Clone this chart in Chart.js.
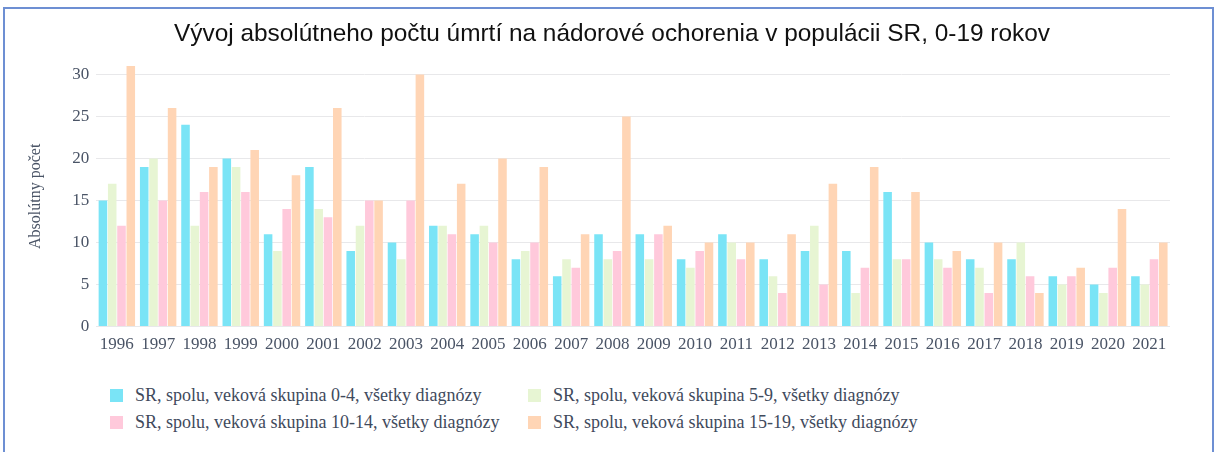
<!doctype html>
<html>

<head>
    <meta charset="utf-8">
    <title>Úmrtia na nádorové ochorenia</title>
    <script src="https://cdn.jsdelivr.net/npm/chart.js"></script>
    <style>
        body { margin: 0; background: #fff; }
        #ramec {
            position: absolute; left: 3px; top: 7px; width: 1207px; height: 450px;
            border: 2px solid #6d8fd3; border-bottom: none; background: #fff;
        }
        #nadpis {
            position: absolute; left: 0; top: 10px; width: 1214px; line-height: 28px; text-align: center;
            font-family: 'Liberation Sans', Arial, sans-serif; font-size: 24.4px; color: #111; white-space: nowrap;
        }
        #graf { position: absolute; left: 0; top: 0; width: 1207px; height: 346px; }
        #legenda {
            position: absolute; left: 105px; top: 376px; width: 900px;
            display: grid; grid-template-columns: 418px 418px; row-gap: 6px;
            font-family: 'Liberation Serif', 'DejaVu Serif', serif; font-size: 18px; color: #3f4a5c;
        }
        .polozka { display: flex; align-items: center; height: 21px; white-space: nowrap; }
        .stvorec { width: 13px; height: 13px; margin-right: 12px; flex: none; }
    </style>
</head>

<body>
    <div id="ramec">
        <div id="graf"><canvas id="platno"></canvas></div>
        <div id="nadpis">Vývoj absolútneho počtu úmrtí na nádorové ochorenia v populácii SR, 0-19 rokov</div>
        <div id="legenda"></div>
    </div>

    <script>
        var roky = ['1996', '1997', '1998', '1999', '2000', '2001', '2002', '2003', '2004', '2005', '2006', '2007', '2008',
            '2009', '2010', '2011', '2012', '2013', '2014', '2015', '2016', '2017', '2018', '2019', '2020', '2021'];

        var skupina0_4 = [15, 19, 24, 20, 11, 19, 9, 10, 12, 11, 8, 6, 11, 11, 8, 11, 8, 9, 9, 16, 10, 8, 8, 6, 5, 6];
        var skupina5_9 = [17, 20, 12, 19, 9, 14, 12, 8, 12, 12, 9, 8, 8, 8, 7, 10, 6, 12, 4, 8, 8, 7, 10, 5, 4, 5];
        var skupina10_14 = [12, 15, 16, 16, 14, 13, 15, 15, 11, 10, 10, 7, 9, 11, 9, 8, 4, 5, 7, 8, 7, 4, 6, 6, 7, 8];
        var skupina15_19 = [31, 26, 19, 21, 18, 26, 15, 30, 17, 20, 19, 11, 25, 12, 10, 10, 11, 17, 19, 16, 9, 10, 4, 7, 14, 10];

        var yTicky = [0, 5, 10, 15, 20, 25, 30];

        var nazvy = [
            'SR, spolu, veková skupina 0-4, všetky diagnózy',
            'SR, spolu, veková skupina 5-9, všetky diagnózy',
            'SR, spolu, veková skupina 10-14, všetky diagnózy',
            'SR, spolu, veková skupina 15-19, všetky diagnózy'
        ];
        var farby = ['#7ae4f6', '#e7f5d3', '#ffc9db', '#ffd5b5'];

        var serif = "'Liberation Serif', 'DejaVu Serif', serif";
        var farbaTextu = '#4a5466';

        var data = [skupina0_4, skupina5_9, skupina10_14, skupina15_19];
        var datasets = data.map(function (hodnoty, i) {
            return {
                label: nazvy[i],
                data: hodnoty,
                backgroundColor: farby[i],
                borderWidth: 0,
                barPercentage: 0.92,
                categoryPercentage: 0.9
            };
        });

        var graf = new Chart(document.getElementById('platno').getContext('2d'), {
            type: 'bar',
            data: { labels: roky, datasets: datasets },
            options: {
                responsive: true,
                maintainAspectRatio: false,
                animation: false,
                layout: { padding: { left: 21, right: 42, top: 57, bottom: 0 } },
                plugins: {
                    legend: { display: false },
                    tooltip: { enabled: false }
                },
                scales: {
                    x: {
                        grid: { display: false },
                        border: { display: false },
                        ticks: { color: farbaTextu, font: { family: serif, size: 17 }, maxRotation: 0, autoSkip: false, padding: 0 }
                    },
                    y: {
                        min: 0,
                        max: 31,
                        grid: { color: '#e8e8ea', drawTicks: false },
                        border: { display: false },
                        afterBuildTicks: function (os) {
                            os.ticks = yTicky.map(function (v) { return { value: v }; });
                        },
                        ticks: { color: farbaTextu, font: { family: serif, size: 17 }, padding: 7 },
                        title: {
                            display: true,
                            text: 'Absolútny počet',
                            color: farbaTextu,
                            font: { family: serif, size: 16 },
                            padding: { top: 0, bottom: 20 }
                        }
                    }
                }
            }
        });

        var legenda = document.getElementById('legenda');
        graf.data.datasets.forEach(function (ds) {
            var p = document.createElement('div');
            p.className = 'polozka';
            var s = document.createElement('span');
            s.className = 'stvorec';
            s.style.background = ds.backgroundColor;
            p.appendChild(s);
            p.appendChild(document.createTextNode(ds.label));
            legenda.appendChild(p);
        });
    </script>
</body>

</html>
